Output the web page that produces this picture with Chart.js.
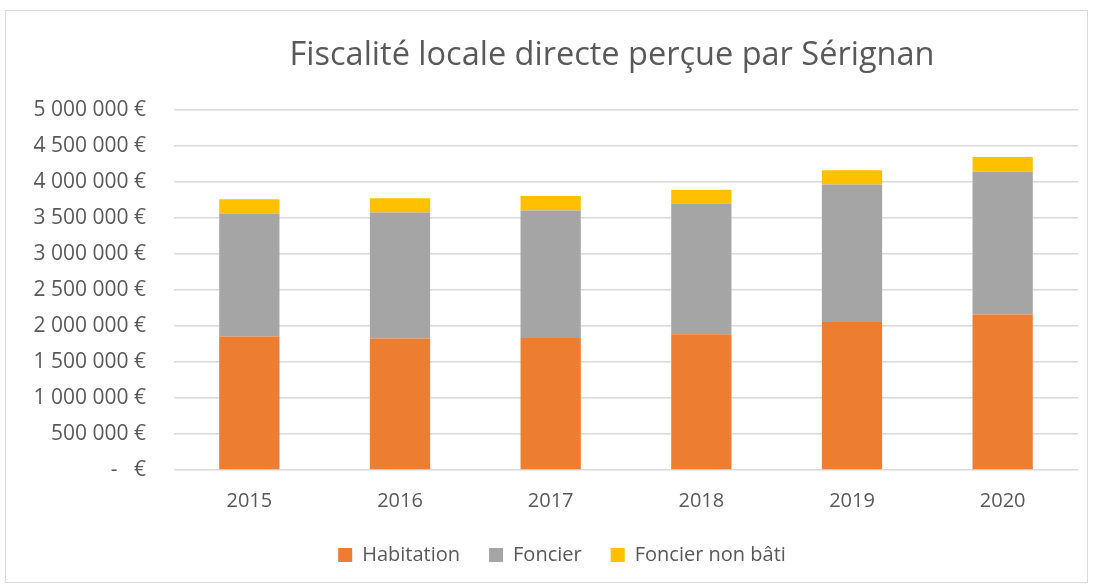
<!DOCTYPE html>
<html>
<head>
<meta charset="utf-8">
<script src="https://cdn.jsdelivr.net/npm/chart.js@4/dist/chart.umd.min.js"></script>
<style>
  html, body { margin: 0; padding: 0; background: #ffffff; }
  #frame { position: absolute; left: 5px; top: 10px; width: 1081px; height: 571px; border: 1px solid #d9d9d9; background: #fff; }
  #c { display: block; }
</style>
</head>
<body>
<div id="frame"><canvas id="c" width="1081" height="571"></canvas></div>
<script>
const categories = ['2015', '2016', '2017', '2018', '2019', '2020'];
const habitation = [1853000, 1825000, 1833000, 1885000, 2056000, 2158000];
const foncier = [1708000, 1750000, 1770000, 1815000, 1908000, 1986000];
const foncierNonBati = [199000, 199000, 203000, 194000, 199000, 203000];
const seriesNames = ['Habitation', 'Foncier', 'Foncier non bâti'];
const yTickValues = [0, 500000, 1000000, 1500000, 2000000, 2500000, 3000000, 3500000, 4000000, 4500000, 5000000];
const titleText = 'Fiscalité locale directe perçue par Sérignan';

const TEXT = '#595959';
const FONT = "'Open Sans', 'DejaVu Sans', sans-serif";

function euro(v) {
  if (v === 0) return '-\u00a0\u00a0\u00a0€';
  return String(v).replace(/\B(?=(\d{3})+(?!\d))/g, '\u00a0') + '\u00a0€';
}

const shiftPlugin = {
  id: 'shiftBlocks',
  afterLayout(chart) {
    if (chart.titleBlock) { chart.titleBlock.left += 70; chart.titleBlock.right += 70; }
    if (chart.legend) { chart.legend.left += 20; chart.legend.right += 20; }
  }
};

new Chart(document.getElementById('c'), {
  type: 'bar',
  data: {
    labels: categories,
    datasets: [
      { label: seriesNames[0], data: habitation, backgroundColor: '#ED7D31' },
      { label: seriesNames[1], data: foncier, backgroundColor: '#A5A5A5' },
      { label: seriesNames[2], data: foncierNonBati, backgroundColor: '#FFC000' }
    ]
  },
  options: {
    responsive: false,
    animation: false,
    layout: { padding: { left: 0, right: 9, top: 0, bottom: 7 } },
    datasets: { bar: { categoryPercentage: 0.4, barPercentage: 1.0 } },
    plugins: {
      title: {
        display: true,
        text: titleText,
        color: TEXT,
        font: { family: FONT, size: 32.5, weight: '400', lineHeight: 1.2 },
        padding: { top: 25, bottom: 35 }
      },
      legend: {
        position: 'bottom',
        labels: {
          color: TEXT,
          font: { family: FONT, size: 20 },
          boxWidth: 14,
          boxHeight: 14,
          padding: 29
        }
      },
      tooltip: { enabled: false }
    },
    scales: {
      x: {
        stacked: true,
        grid: { display: false, drawTicks: false },
        border: { display: false },
        ticks: { color: TEXT, font: { family: FONT, size: 20 }, padding: 19 },
        afterFit(scale) { scale.height = 46; }
      },
      y: {
        stacked: true,
        min: 0,
        max: 5000000,
        afterBuildTicks(scale) { scale.ticks = yTickValues.map(v => ({ value: v })); },
        grid: { color: '#d9d9d9', lineWidth: 1.5, drawTicks: false },
        border: { display: false },
        ticks: {
          color: TEXT,
          font: { family: FONT, size: 21 },
          padding: 28,
          callback: (v) => euro(v)
        },
        afterFit(scale) { scale.width = 168; }
      }
    }
  },
  plugins: [shiftPlugin]
});
</script>
</body>
</html>
